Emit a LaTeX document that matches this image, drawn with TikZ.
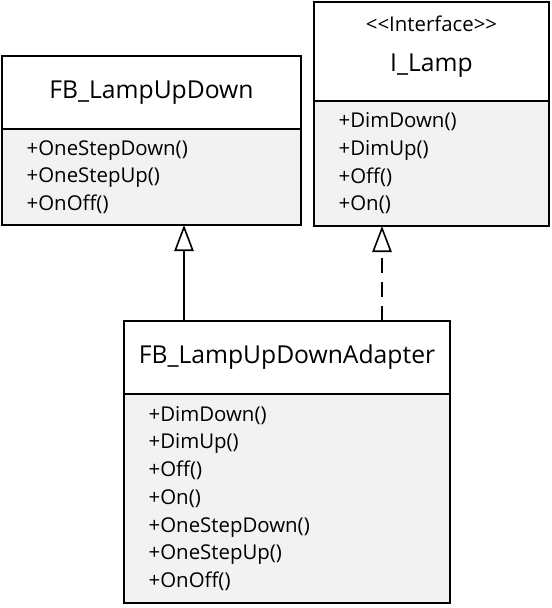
\documentclass[tikz,border=0pt]{standalone}
\usepackage{fontspec}
\setmainfont{Open Sans}
\usepackage{xcolor}
\usepackage{tikz}
\usetikzlibrary{arrows.meta, positioning}
\definecolor{methgris}{RGB}{242,242,242}

\begin{document}
\begin{tikzpicture}[x=0.75pt, y=-0.75pt,
    entete/.style={draw, line width=0.9pt, outer sep=0pt, align=center, font=\fontsize{18.5}{22}\selectfont},
    methodes/.style={draw, line width=0.9pt, outer sep=0pt, fill=methgris, align=left, inner xsep=18.5pt, font=\fontsize{15.3}{20.8}\selectfont},
    herite/.style={line width=1.4pt, -{Triangle[open, length=19.5pt, width=14.5pt, line width=1.2pt]}},
    realise/.style={herite, dash pattern=on 11pt off 7pt}]
    \useasboundingbox (0,0) rectangle (551,608);

    % FB_LampUpDown
    \node[entete, minimum width=224.25pt, minimum height=54.75pt, anchor=north west] (lampud) at (2,56) {FB\_LampUpDown};
    \node[methodes, text width=187.25pt, minimum height=72pt, below=0pt of lampud] (lampudm) {+OneStepDown()\\+OneStepUp()\\+OnOff()};

    % I_Lamp
    \node[entete, minimum width=176.25pt, minimum height=74.25pt, anchor=north west] (ilamp) at (314,2) {};
    \node[font=\fontsize{15.3}{18}\selectfont] (stereo) at (431.5,24) {<{}<Interface>{}>};
    \node[font=\fontsize{18.5}{22}\selectfont] (ilampnom) at (431.5,66) {I\_Lamp};
    \node[methodes, text width=139.25pt, minimum height=93.75pt, below=0pt of ilamp] (ilampm) {+DimDown()\\+DimUp()\\+Off()\\+On()};

    % FB_LampUpDownAdapter
    \node[entete, minimum width=244.5pt, minimum height=54.75pt, anchor=north west] (adapt) at (124,321) {FB\_LampUpDownAdapter};
    \node[methodes, text width=207.5pt, minimum height=156.75pt, below=0pt of adapt] (adaptm) {+DimDown()\\+DimUp()\\+Off()\\+On()\\+OneStepDown()\\+OneStepUp()\\+OnOff()};

    % Relations
    \draw[herite] ([xshift=45pt]adapt.north west) -- ([xshift=45pt]adapt.north west |- lampudm.south);
    \draw[realise] ([xshift=193.5pt]adapt.north west) -- ([xshift=193.5pt]adapt.north west |- ilampm.south);
\end{tikzpicture}
\end{document}
